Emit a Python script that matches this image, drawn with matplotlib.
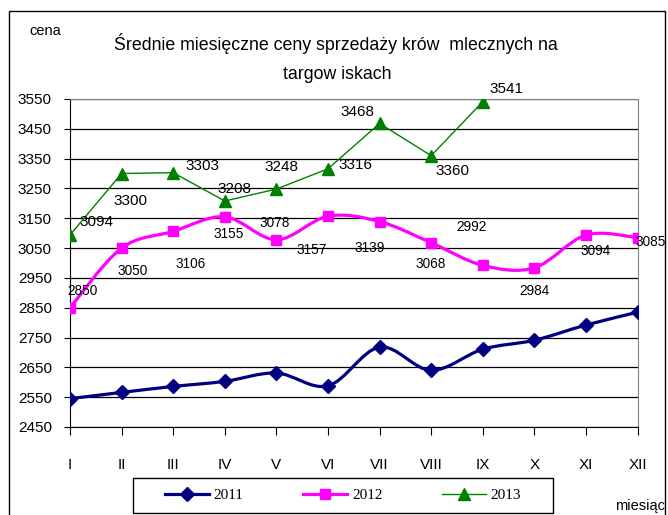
import numpy as np
import matplotlib.pyplot as plt
from matplotlib.path import Path
from matplotlib.patches import PathPatch, Rectangle
from matplotlib.lines import Line2D

plt.rcParams['font.family'] = ['Liberation Sans', 'DejaVu Sans']

miesiace = ['I', 'II', 'III', 'IV', 'V', 'VI', 'VII', 'VIII', 'IX', 'X', 'XI', 'XII']
ceny_2011 = [2545, 2566, 2586, 2603, 2631, 2588, 2718, 2640, 2711, 2741, 2792, 2835]
ceny_2012 = [2850, 3050, 3106, 3155, 3078, 3157, 3139, 3068, 2992, 2984, 3094, 3085]
ceny_2013 = [3094, 3300, 3303, 3208, 3248, 3316, 3468, 3360, 3541]

# przesunięcia etykiet (piksele, dx w prawo, dy w dół)
off_2012 = [(13, -17), (11, 23), (17, 33), (4, 17), (-2, -17), (-16, 34),
            (-10, 26), (-1, 21), (-11, -38), (0, 23), (10, 16), (13, 4)]
off_2013 = [(26, -13), (9, 27), (29, -7), (10, -12), (5, -22), (27, -4),
            (-22, -11), (21, 15), (24, -13)]


def wygladzona(x, y):
    # krzywa Beziera jak "wygładzona linia" w Excelu
    pts = np.column_stack([x, y]).astype(float)
    p = np.vstack([pts[0], pts, pts[-1]])
    verts = [pts[0]]
    codes = [Path.MOVETO]
    for i in range(len(pts) - 1):
        p0, p1, p2, p3 = p[i], p[i + 1], p[i + 2], p[i + 3]
        verts += [p1 + (p2 - p0) / 6, p2 - (p3 - p1) / 6, p2]
        codes += [Path.CURVE4] * 3
    return Path(verts, codes)


fig = plt.figure(figsize=(6.68, 5.15), dpi=100)
ax = fig.add_axes([70 / 668, 1 - 427 / 515, 567.6 / 668, 328 / 515])

x12 = np.arange(12)
x13 = np.arange(len(ceny_2013))

ax.add_patch(PathPatch(wygladzona(x12, ceny_2011), fill=False, edgecolor='#000080', lw=2.3, zorder=3))
ax.plot(x12, ceny_2011, ls='none', marker='D', ms=7, color='#000080', zorder=4)

ax.add_patch(PathPatch(wygladzona(x12, ceny_2012), fill=False, edgecolor='#FF00FF', lw=2.3, zorder=3))
ax.plot(x12, ceny_2012, ls='none', marker='s', ms=7.5, color='#FF00FF', zorder=4)

ax.plot(x13, ceny_2013, color='#008000', lw=1.0, marker='^', ms=8.5, zorder=4)

for xi, v, (dx, dy) in zip(x12, ceny_2012, off_2012):
    ax.annotate(str(v), (xi, v), xytext=(dx * 0.72, -dy * 0.72), textcoords='offset points',
                ha='center', va='center', fontsize=9.8, zorder=5)
for xi, v, (dx, dy) in zip(x13, ceny_2013, off_2013):
    ax.annotate(str(v), (xi, v), xytext=(dx * 0.72, -dy * 0.72), textcoords='offset points',
                ha='center', va='center', fontsize=11, zorder=5)

ax.set_xlim(0, 11)
ax.set_ylim(2450, 3550)
ax.set_yticks(np.arange(2450, 3551, 100))
ax.set_xticks(x12)
ax.set_xticklabels(miesiace)
ax.tick_params(axis='y', labelsize=11, length=4, pad=9, direction='out')
ax.tick_params(axis='x', labelsize=11, length=6, pad=16, direction='out')
ax.grid(axis='y', color='black', lw=0.9)
ax.set_axisbelow(True)
for s in ['left', 'bottom']:
    ax.spines[s].set_color('black')
ax.spines['right'].set_color('#808080')
ax.spines['top'].set_color('#808080')

fig.text(336 / 668, 1 - 44 / 515, 'Średnie miesięczne ceny sprzedaży krów  mlecznych na',
         ha='center', va='center', fontsize=12.8)
fig.text(337 / 668, 1 - 75 / 515, 'targow iskach', ha='center', va='center', fontsize=12.8)
fig.text(45 / 668, 1 - 31 / 515, 'cena', ha='center', va='center', fontsize=10.5)
fig.text(640 / 668, 1 - 506 / 515, 'miesiąc', ha='center', va='center', fontsize=10.5)

# ramka wykresu i legendy
fig.patches.append(Rectangle((9 / 668, -0.02), 656 / 668, 1.02 - 11 / 515, transform=fig.transFigure,
                             fill=False, edgecolor='black', lw=1.0))
fig.patches.append(Rectangle((133 / 668, 1 - 513 / 515), 420 / 668, 35 / 515, transform=fig.transFigure,
                             fill=False, edgecolor='black', lw=1.0))

uchwyty = [
    Line2D([], [], color='#000080', lw=2.3, marker='D', ms=7),
    Line2D([], [], color='#FF00FF', lw=2.3, marker='s', ms=7.5),
    Line2D([], [], color='#008000', lw=1.0, marker='^', ms=8.5),
]
fig.legend(uchwyty, ['2011', '2012', '2013'], loc='center', bbox_to_anchor=(343 / 668, 1 - 495.5 / 515),
           ncol=3, frameon=False, handlelength=2.9, handletextpad=0.3, columnspacing=3.9,
           prop={'family': 'Liberation Serif', 'size': 11})

fig.savefig('out.png', dpi=100)
